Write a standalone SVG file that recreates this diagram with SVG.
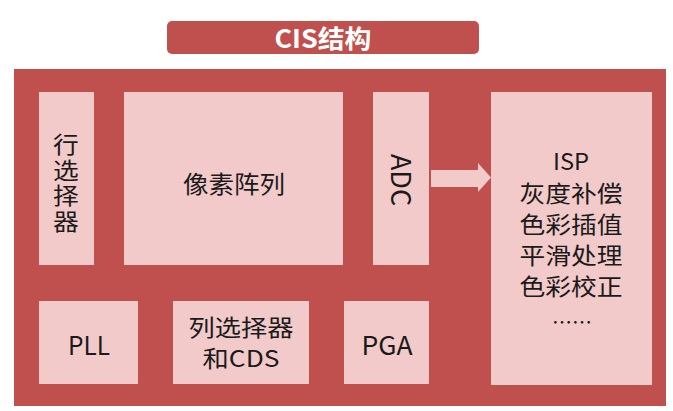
<svg xmlns="http://www.w3.org/2000/svg" width="673" height="411" viewBox="0 0 673 411">
<style>
.dark{fill:#C0504D}
.box{fill:#F2CACA}
.t{font-family:"Noto Sans CJK SC","Noto Sans",sans-serif;fill:#1a1a1a;text-anchor:middle;dominant-baseline:central}
</style>
<rect width="673" height="411" fill="#ffffff"/>
<g id="title">
<rect class="dark" x="167" y="21" width="312" height="33" rx="5"/>
<text class="t" x="323" y="37" textLength="97" lengthAdjust="spacingAndGlyphs" style="fill:#ffffff;font-weight:bold;font-size:25px">CIS结构</text>
</g>
<g id="chip">
<rect class="dark" x="14" y="69" width="652" height="337"/>
</g>
<g id="row-selector">
<rect class="box" x="39" y="92" width="55" height="173"/>
<text class="t" transform="translate(66 184) scale(1.12 1)" x="0" y="0" writing-mode="vertical-rl" font-size="23" letter-spacing="2.5">行选择器</text>
</g>
<g id="pixel-array">
<rect class="box" x="124" y="92" width="219" height="173"/>
<text class="t" x="234" y="182" font-size="24" textLength="102" lengthAdjust="spacingAndGlyphs">像素阵列</text>
</g>
<g id="adc">
<rect class="box" x="373" y="92" width="56" height="173"/>
<text class="t" transform="translate(402 180) rotate(90)" font-size="27">ADC</text>
</g>
<g id="isp">
<rect class="box" x="491" y="92" width="161" height="293"/>
<text class="t" x="571" y="160" font-size="23" textLength="36" lengthAdjust="spacingAndGlyphs">ISP</text>
<text class="t" x="571" y="192" font-size="23" textLength="103" lengthAdjust="spacingAndGlyphs">灰度补偿</text>
<text class="t" x="571" y="223" font-size="23" textLength="103" lengthAdjust="spacingAndGlyphs">色彩插值</text>
<text class="t" x="571" y="254" font-size="23" textLength="103" lengthAdjust="spacingAndGlyphs">平滑处理</text>
<text class="t" x="571" y="285" font-size="23" textLength="103" lengthAdjust="spacingAndGlyphs">色彩校正</text>
<text class="t" x="572" y="321" font-size="20">……</text>
</g>
<g id="pll">
<rect class="box" x="39" y="301" width="99" height="83"/>
<text class="t" x="89" y="343" font-size="26" textLength="42" lengthAdjust="spacingAndGlyphs">PLL</text>
</g>
<g id="col-selector-cds">
<rect class="box" x="173" y="301" width="136" height="83"/>
<text class="t" x="241" y="326" font-size="23" textLength="105" lengthAdjust="spacingAndGlyphs">列选择器</text>
<text class="t" x="241" y="357" font-size="23" textLength="77" lengthAdjust="spacingAndGlyphs">和CDS</text>
</g>
<g id="pga">
<rect class="box" x="344" y="301" width="85" height="83"/>
<text class="t" x="387" y="343" font-size="26" textLength="51" lengthAdjust="spacingAndGlyphs">PGA</text>
</g>
<g id="connectors">
<polygon class="box" points="431,170 478,170 478,163 491,177.5 478,192 478,187 431,187"/>
</g>
</svg>
